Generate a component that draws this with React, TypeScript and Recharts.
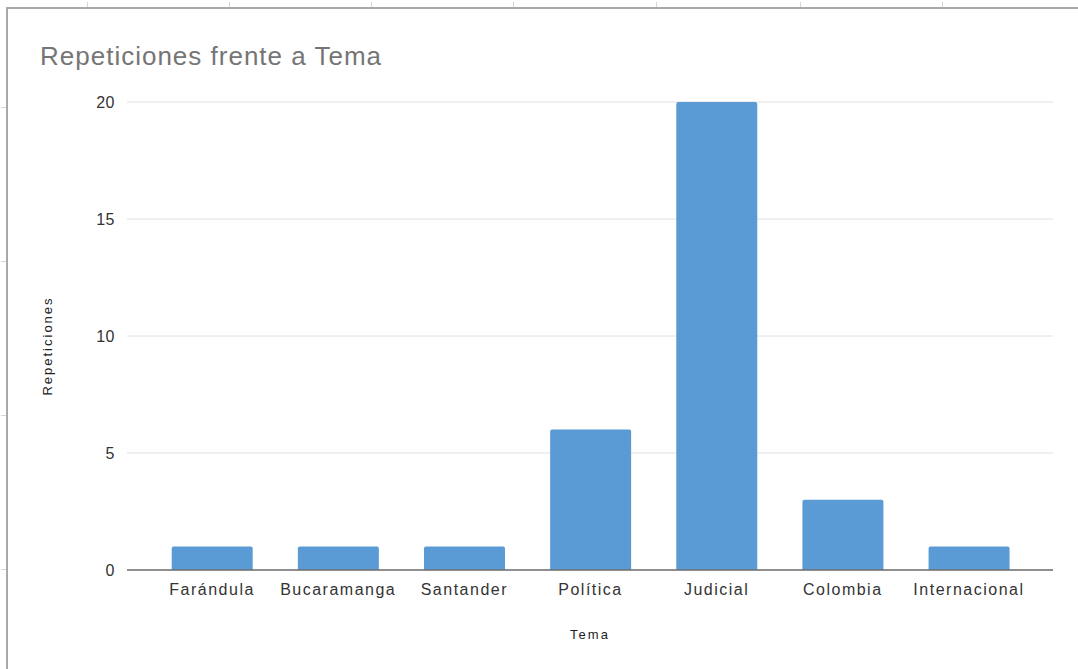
import React from 'react';
import { BarChart, Bar, XAxis, YAxis, CartesianGrid } from 'recharts';

const temas = ['Farándula', 'Bucaramanga', 'Santander', 'Política', 'Judicial', 'Colombia', 'Internacional'];
const repeticiones = [1, 1, 1, 6, 20, 3, 1];
const yTicks = [0, 5, 10, 15, 20];

// spreadsheet grid marks around the chart frame
const colMarks = [87, 229, 371, 513, 656, 800, 942];
const rowMarks = [107, 261, 415, 569];

const data = temas.map((tema, i) => ({ tema, repeticiones: repeticiones[i] }));

const FONT = '"Liberation Sans", Arial, sans-serif';

export default function App() {
  return (
    <div style={{ position: 'absolute', left: 0, top: 0, width: 1078, height: 669, overflow: 'hidden', background: '#fff', fontFamily: FONT }}>
      {/* sheet frame */}
      {colMarks.map((x) => (
        <div key={'c' + x} style={{ position: 'absolute', left: x, top: 2, width: 1, height: 5, background: '#d6d6d6' }} />
      ))}
      {rowMarks.map((y) => (
        <div key={'r' + y} style={{ position: 'absolute', left: 1, top: y, width: 5, height: 1, background: '#d6d6d6' }} />
      ))}
      <div style={{ position: 'absolute', left: 6, top: 7, width: 1072, height: 662, borderLeft: '2px solid #a9a9a9', borderTop: '2px solid #a9a9a9' }} />

      <div style={{ position: 'absolute', left: 40, top: 43, fontSize: 26, lineHeight: '26px', letterSpacing: 1, color: '#757575', whiteSpace: 'nowrap' }}>
        Repeticiones frente a Tema
      </div>

      <div style={{ position: 'absolute', left: 0, top: 0 }}>
        <BarChart
          width={1078}
          height={669}
          data={data}
          margin={{ top: 102, right: 25, bottom: 69, left: 67 }}
          barCategoryGap="18%"
        >
          <CartesianGrid vertical={false} stroke="#e0e0e0" strokeWidth={1} />
          <XAxis
            dataKey="tema"
            height={30}
            padding={{ left: 22, right: 21 }}
            tickLine={false}
            tickSize={6}
            tickMargin={8}
            axisLine={{ stroke: '#6f6f6f', strokeWidth: 1.5 }}
            tick={{ fontSize: 16, fill: '#333', letterSpacing: 1.5, fontFamily: FONT }}
            interval={0}
            label={{
              value: 'Tema',
              content: ({ viewBox }: any) => (
                <text
                  x={viewBox.x + viewBox.width / 2}
                  y={viewBox.y + 69}
                  textAnchor="middle"
                  fontSize={13}
                  letterSpacing={2}
                  fill="#222"
                  fontFamily={FONT}
                >
                  Tema
                </text>
              ),
            }}
          />
          <YAxis
            width={60}
            domain={[0, 20]}
            ticks={yTicks}
            axisLine={false}
            tickLine={false}
            tickSize={6}
            tickMargin={6}
            tick={{ fontSize: 16, fill: '#333', letterSpacing: 0.5, fontFamily: FONT }}
            label={{
              value: 'Repeticiones',
              content: ({ viewBox }: any) => {
                const cx = viewBox.x - 15;
                const cy = viewBox.y + viewBox.height / 2 + 10;
                return (
                  <text
                    x={cx}
                    y={cy}
                    transform={`rotate(-90, ${cx}, ${cy})`}
                    textAnchor="middle"
                    fontSize={13}
                    letterSpacing={2}
                    fill="#222"
                    fontFamily={FONT}
                  >
                    Repeticiones
                  </text>
                );
              },
            }}
          />
          <Bar dataKey="repeticiones" fill="#5b9bd5" radius={[2, 2, 0, 0]} isAnimationActive={false} />
        </BarChart>
      </div>
    </div>
  );
}
